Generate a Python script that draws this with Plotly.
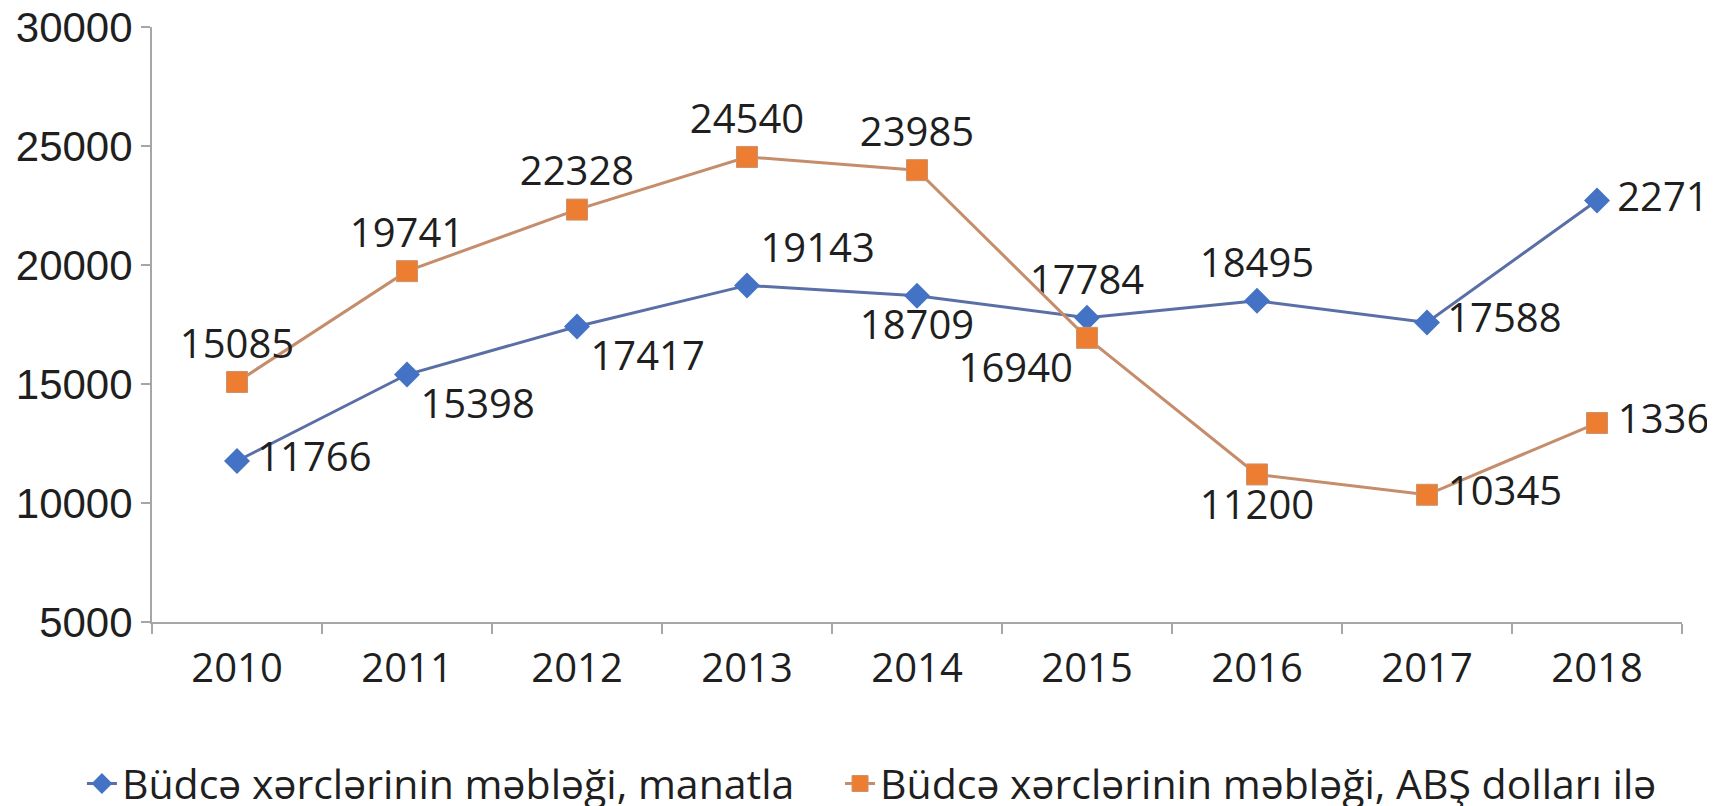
import plotly.graph_objects as go

years = ["2010", "2011", "2012", "2013", "2014", "2015", "2016", "2017", "2018"]
manat = [11766, 15398, 17417, 19143, 18709, 17784, 18495, 17588, 22710]
usd = [15085, 19741, 22328, 24540, 23985, 16940, 11200, 10345, 13360]
name_manat = "Büdcə xərclərinin məbləği, manatla"
name_usd = "Büdcə xərclərinin məbləği, ABŞ dolları ilə"

pos_manat = ["middle right", "bottom right", "bottom right", "top right", "bottom center",
             "top center", "top center", "middle right", "middle right"]
pos_usd = ["top center", "top center", "top center", "top center", "top center",
           "bottom left", "bottom center", "middle right", "middle right"]


def labels(values, positions):
    # a thin space keeps right-hand labels slightly apart from the marker
    return [("\u2009" + str(v)) if p == "middle right" else str(v)
            for v, p in zip(values, positions)]


label_font = dict(family="Open Sans, Lato, sans-serif", size=40, color="#1f1f1f")
legend_font = dict(family="Open Sans, Lato, sans-serif", size=41, color="#1f1f1f")

fig = go.Figure()
fig.add_trace(go.Scatter(
    x=years, y=manat, name=name_manat, mode="lines+markers+text",
    text=labels(manat, pos_manat), textposition=pos_manat, textfont=label_font,
    line=dict(color="#5A6FA6", width=3),
    marker=dict(symbol="diamond", size=20, color="#4472C4"),
    cliponaxis=False, legend="legend",
))
fig.add_trace(go.Scatter(
    x=years, y=usd, name=name_usd, mode="lines+markers+text",
    text=labels(usd, pos_usd), textposition=pos_usd, textfont=label_font,
    line=dict(color="#C58D6B", width=3),
    marker=dict(symbol="square", size=21, color="#ED7D31", line=dict(color="#C9936F", width=1)),
    cliponaxis=False, legend="legend2",
))

fig.update_layout(
    width=1715, height=806,
    margin=dict(l=144, r=41, t=19, b=192, autoexpand=False),
    paper_bgcolor="white", plot_bgcolor="white",
    showlegend=True,
    legend=dict(orientation="h", x=-0.0458, xanchor="left", y=-0.272, yanchor="middle",
                font=legend_font, itemwidth=30, bgcolor="rgba(0,0,0,0)"),
    legend2=dict(orientation="h", x=0.4497, xanchor="left", y=-0.272, yanchor="middle",
                 font=legend_font, itemwidth=30, bgcolor="rgba(0,0,0,0)"),
)
fig.update_xaxes(
    type="category", range=[-0.5, 8.5], showgrid=False,
    showline=True, linecolor="#A6A6A6", linewidth=2,
    ticks="outside", tickson="boundaries", ticklen=10, tickcolor="#A6A6A6", tickwidth=2,
    tickfont=dict(family="Open Sans, Lato, sans-serif", size=40, color="#1f1f1f"),
    ticklabelstandoff=10,
)
fig.update_yaxes(
    range=[5000, 30000], dtick=5000, showgrid=False, zeroline=False,
    showline=True, linecolor="#A6A6A6", linewidth=2,
    ticks="outside", ticklen=9, tickcolor="#A6A6A6", tickwidth=2,
    tickfont=dict(family="Liberation Sans, Arial, sans-serif", size=42, color="#1f1f1f"),
    tickformat="d", ticklabeloverflow="allow",
)

fig.write_html("out.html")
